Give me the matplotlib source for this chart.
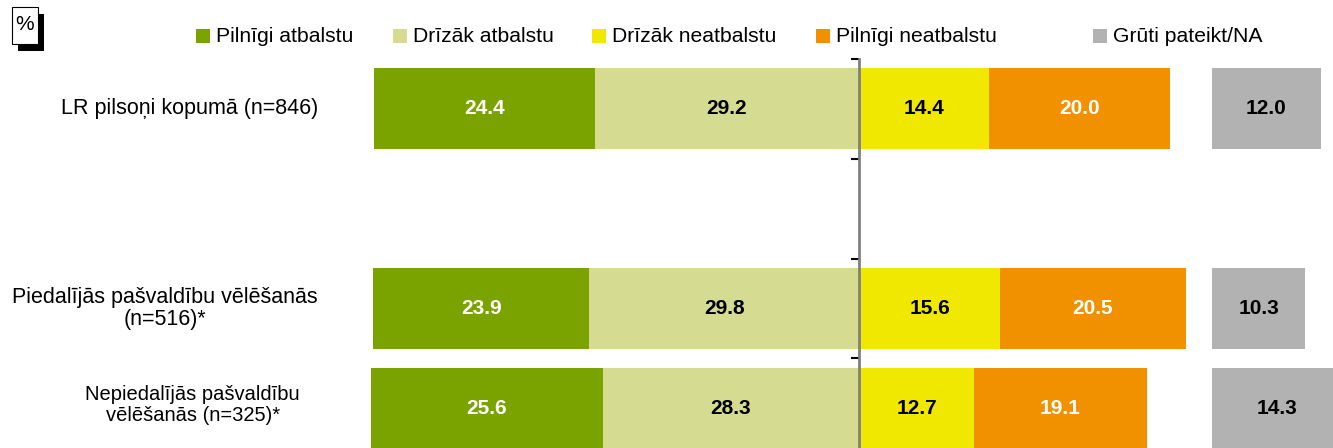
import matplotlib
matplotlib.use("Agg")
import matplotlib.pyplot as plt
from matplotlib.patches import Rectangle

plt.rcParams['font.family'] = ['Liberation Sans', 'DejaVu Sans']

categories = ["LR pilsoņi kopumā (n=846)", "",
              "Piedalījās pašvaldību vēlēšanās\n(n=516)*",
              "Nepiedalījās pašvaldību\nvēlēšanās (n=325)*"]
series_names = ["Pilnīgi atbalstu", "Drīzāk atbalstu", "Drīzāk neatbalstu",
                "Pilnīgi neatbalstu", "Grūti pateikt/NA"]
full_support = [24.4, None, 23.9, 25.6]
rather_support = [29.2, None, 29.8, 28.3]
rather_not = [14.4, None, 15.6, 12.7]
full_not = [20.0, None, 20.5, 19.1]
hard_to_say = [12.0, None, 10.3, 14.3]

colors = ["#7BA300", "#D5DC92", "#F0E800", "#F29100", "#B2B2B2"]
text_colors = ["white", "black", "black", "white", "black"]

W, H = 1333, 448
fig = plt.figure(figsize=(W / 100, H / 100), dpi=100)

def fx(px):
    return px / W

def fy(py):
    return 1 - py / H

center_px = 859
scale = 9.05  # px per percent
top_px, bottom_px = 59, 458
ax = fig.add_axes([0, fy(bottom_px), 1, (bottom_px - top_px) / H])
ax.set_xlim(-center_px / scale, (W - center_px) / scale)
ax.set_ylim(4, 0)

na_offset = 39.0
bar_h = 0.81
label_fs = 15

for i, cat in enumerate(categories):
    if full_support[i] is None:
        continue
    y = i + 0.5
    a, b, c, d, e = (full_support[i], rather_support[i], rather_not[i],
                     full_not[i], hard_to_say[i])
    segs = [(-(a + b), a), (-b, b), (0, c), (c, d), (na_offset, e)]
    vals = [a, b, c, d, e]
    for k, ((left, width), v) in enumerate(zip(segs, vals)):
        ax.barh(y, width, left=left, height=bar_h, color=colors[k], zorder=2)
        ax.text(left + width / 2, y, f"{v:.1f}", ha='center', va='center',
                color=text_colors[k], fontsize=label_fs, fontweight='bold',
                zorder=3)

# category labels
label_right_px = [318, None, 318, 300]
label_dy = [0, 0, 0, -0.03]
label_fs_cat = [15.5, 15.5, 15.5, 14.5]
for i, cat in enumerate(categories):
    if not cat:
        continue
    ax.text((label_right_px[i] - center_px) / scale, i + 0.5 + label_dy[i], cat,
            ha='right', va='center', multialignment='center',
            fontsize=label_fs_cat[i], color='black', linespacing=1.1)

# center axis
for s in ['top', 'right', 'bottom']:
    ax.spines[s].set_visible(False)
ax.spines['left'].set_position(('data', 0))
ax.spines['left'].set_color('#808080')
ax.spines['left'].set_linewidth(2)
ax.spines['left'].set_zorder(4)
ax.set_xticks([])
ax.set_yticks([0, 1, 2, 3, 4])
ax.set_yticklabels([])
ax.tick_params(axis='y', direction='out', length=6, width=1.5, color='black')

# legend
sq_x = [196, 393, 592, 816, 1093]
sq_size = 14
sq_cy = 36
for k, name in enumerate(series_names):
    fig.add_artist(Rectangle((fx(sq_x[k]), fy(sq_cy + sq_size / 2)),
                             sq_size / W, sq_size / H, transform=fig.transFigure,
                             facecolor=colors[k], edgecolor='none'))
    fig.text(fx(sq_x[k] + sq_size + 6), fy(sq_cy), name, ha='left',
             va='center', fontsize=15.2, color='black')

# "%" box with shadow
fig.add_artist(Rectangle((fx(18), fy(51)), 26 / W, 37 / H,
                         transform=fig.transFigure, facecolor='black',
                         edgecolor='none'))
fig.add_artist(Rectangle((fx(12), fy(44)), 26 / W, 37 / H,
                         transform=fig.transFigure, facecolor='white',
                         edgecolor='black', linewidth=0.8))
fig.text(fx(25), fy(25), "%", ha='center', va='center', fontsize=15)

fig.savefig("out.png", dpi=100)
